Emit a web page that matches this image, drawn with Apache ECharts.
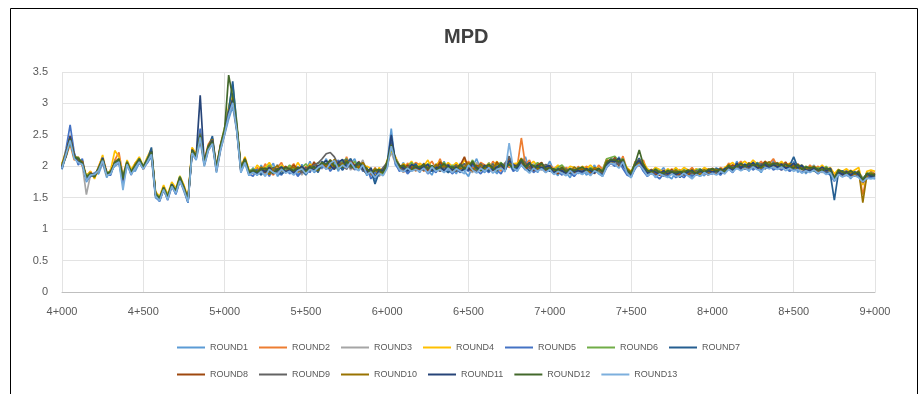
<!DOCTYPE html>
<html>
<head>
<meta charset="utf-8">
<script src="https://cdn.jsdelivr.net/npm/echarts@6/dist/echarts.min.js"></script>
<style>
html, body { margin: 0; padding: 0; background: #fff; }
#grafico { width: 924px; height: 394px; }
</style>
</head>
<body>
<div id="grafico"></div>
<script>
// chainage in metres, one reading every 25 m
var chainage = [
    4000,4025,4050,4075,4100,4125,4150,4175, 4200,4225,4250,4275,4300,4325,4350,4375,
    4400,4425,4450,4475,4500,4525,4550,4575, 4600,4625,4650,4675,4700,4725,4750,4775,
    4800,4825,4850,4875,4900,4925,4950,4975, 5000,5025,5050,5075,5100,5125,5150,5175,
    5200,5225,5250,5275,5300,5325,5350,5375, 5400,5425,5450,5475,5500,5525,5550,5575,
    5600,5625,5650,5675,5700,5725,5750,5775, 5800,5825,5850,5875,5900,5925,5950,5975,
    6000,6025,6050,6075,6100,6125,6150,6175, 6200,6225,6250,6275,6300,6325,6350,6375,
    6400,6425,6450,6475,6500,6525,6550,6575, 6600,6625,6650,6675,6700,6725,6750,6775,
    6800,6825,6850,6875,6900,6925,6950,6975, 7000,7025,7050,7075,7100,7125,7150,7175,
    7200,7225,7250,7275,7300,7325,7350,7375, 7400,7425,7450,7475,7500,7525,7550,7575,
    7600,7625,7650,7675,7700,7725,7750,7775, 7800,7825,7850,7875,7900,7925,7950,7975,
    8000,8025,8050,8075,8100,8125,8150,8175, 8200,8225,8250,8275,8300,8325,8350,8375,
    8400,8425,8450,8475,8500,8525,8550,8575, 8600,8625,8650,8675,8700,8725,8750,8775,
    8800,8825,8850,8875,8900,8925,8950,8975, 9000
];

var xLabels = ['4+000','4+500','5+000','5+500','6+000','6+500','7+000','7+500','8+000','8+500','9+000'];
var seriesNames = ['ROUND1','ROUND2','ROUND3','ROUND4','ROUND5','ROUND6','ROUND7',
                   'ROUND8','ROUND9','ROUND10','ROUND11','ROUND12','ROUND13'];

var round1 = [
    1.95,2.18,2.40,2.20,2.05,2.10,1.75,1.85, 1.90,1.88,2.05,1.82,1.95,2.00,2.05,1.72,
    2.00,1.95,1.92,2.05,2.02,2.05,2.15,1.50, 1.45,1.62,1.48,1.72,1.55,1.78,1.60,1.42,
    2.20,2.10,2.40,2.00,2.25,2.35,1.90,2.25, 2.50,2.75,2.95,2.55,1.90,2.05,1.85,1.98,
    1.85,2.02,1.88,1.96,2.05,1.84,1.92,2.00, 1.90,1.97,1.86,2.03,1.92,2.08,1.90,1.95,
    2.00,2.12,1.95,2.06,1.92,2.10,1.95,2.05, 2.12,1.95,2.04,1.85,1.98,1.76,1.94,1.88,
    2.05,2.60,2.02,1.95,2.06,1.90,2.02,1.98, 1.90,2.05,1.94,1.86,2.02,1.95,2.08,1.90,
    1.97,1.88,2.05,1.92,1.84,2.00,2.12,1.95, 1.90,2.06,1.96,1.88,2.02,1.95,2.12,1.98,
    1.92,2.05,2.15,1.94,2.02,1.90,2.05,1.96, 2.08,1.92,1.85,1.98,1.90,1.82,1.96,1.88,
    1.98,1.86,1.92,2.02,1.88,1.84,2.05,2.12, 2.02,2.15,2.05,1.88,1.82,2.00,2.12,1.98,
    1.86,1.95,1.82,1.90,1.98,1.85,1.80,1.92, 1.84,1.95,1.88,1.82,1.96,1.90,1.85,1.94,
    1.90,1.98,1.86,1.95,2.02,1.94,2.08,1.96, 2.04,1.92,2.08,1.98,1.90,2.05,1.96,2.10,
    1.95,2.06,1.98,1.92,2.08,1.90,2.00,1.88, 1.96,2.02,1.90,1.98,1.88,1.95,1.78,1.92,
    1.85,1.95,1.80,1.92,1.86,1.75,1.90,1.82, 1.80];
var round2 = [
    2.02,2.15,2.35,2.10,2.15,2.00,1.85,1.92, 1.82,2.00,2.15,1.92,1.88,2.10,2.22,1.85,
    2.08,1.88,2.05,2.12,1.95,2.12,2.25,1.58, 1.50,1.68,1.52,1.68,1.62,1.82,1.68,1.48,
    2.28,2.18,2.45,2.10,2.35,2.45,2.00,2.35, 2.60,2.90,3.10,2.65,2.00,2.12,1.92,1.88,
    1.98,1.90,2.04,1.92,1.86,1.98,2.06,1.90, 1.96,2.04,1.92,1.88,2.00,1.94,2.05,1.92,
    2.08,1.95,2.04,2.10,2.05,1.96,2.15,1.98, 1.95,2.08,1.98,1.94,1.85,1.98,1.88,1.95,
    2.00,2.28,2.15,2.02,1.90,2.05,1.98,2.06, 2.02,1.92,2.00,2.08,1.96,2.12,1.95,2.04,
    1.92,2.05,1.95,2.00,2.08,1.98,1.94,2.06, 2.02,1.94,2.08,2.00,1.92,2.05,1.98,2.04,
    2.00,2.45,2.02,2.10,1.95,2.05,1.98,1.90, 2.02,1.96,2.00,1.90,1.98,1.94,1.88,2.00,
    1.92,2.00,1.96,1.88,2.02,1.95,2.12,2.05, 2.10,2.02,2.16,1.95,1.86,2.08,2.00,2.10,
    1.92,1.88,1.98,1.85,1.94,1.90,1.96,1.88, 1.95,1.86,1.92,1.98,1.90,1.94,1.88,1.96,
    1.92,1.88,1.98,1.94,2.05,1.98,2.02,2.08, 1.98,2.06,1.95,2.02,2.08,1.96,2.04,2.12,
    2.00,1.94,2.05,2.02,1.96,2.04,1.98,1.92, 2.02,1.95,2.00,1.92,1.98,1.90,1.85,1.95,
    1.90,1.86,1.94,1.88,1.92,1.55,1.85,1.92, 1.88];
var round3 = [
    1.98,2.22,2.50,2.18,2.08,2.02,1.55,1.86, 1.88,1.92,2.10,1.90,1.92,2.02,2.08,1.78,
    2.02,1.92,1.98,2.08,2.00,2.08,2.20,1.52, 1.46,1.66,1.50,1.70,1.58,1.80,1.62,1.44,
    2.22,2.12,2.55,2.02,2.28,2.38,1.92,2.28, 2.52,2.82,3.00,2.58,1.92,2.08,1.88,1.95,
    1.90,1.98,1.86,1.95,1.92,2.03,1.88,1.94, 1.98,1.90,1.95,1.86,1.96,2.00,1.92,2.02,
    1.96,2.04,2.08,1.98,2.02,1.95,2.08,1.94, 2.04,1.98,2.10,1.90,1.86,1.95,1.84,1.92,
    2.08,2.22,2.05,2.00,1.94,1.98,1.92,2.00, 1.96,2.00,1.90,1.98,2.04,1.92,1.98,2.02,
    1.94,2.00,1.96,2.04,1.95,1.90,2.06,1.98, 1.95,2.00,2.04,1.92,1.98,2.06,2.02,1.94,
    1.98,2.08,2.00,1.95,2.04,1.98,1.94,2.02, 1.95,1.90,1.96,1.92,1.86,1.98,1.92,1.95,
    1.90,1.95,1.88,1.96,1.92,1.88,2.02,2.08, 2.05,2.10,2.02,1.90,1.88,1.98,2.06,2.02,
    1.88,1.92,1.86,1.94,1.90,1.88,1.92,1.86, 1.90,1.88,1.95,1.86,1.92,1.88,1.94,1.90,
    1.95,1.90,1.92,1.88,1.98,2.02,1.96,2.00, 2.02,1.98,2.00,2.05,1.96,2.02,2.00,1.96,
    2.04,1.98,2.02,1.95,2.00,1.96,1.94,1.98, 1.94,1.98,1.95,1.90,1.96,1.92,1.82,1.90,
    1.88,1.90,1.85,1.88,1.90,1.82,1.86,1.88, 1.83];
var round4 = [
    2.05,2.25,2.42,2.12,2.12,2.08,1.85,1.92, 1.80,1.98,2.18,1.85,1.95,2.25,2.15,1.82,
    2.10,1.95,2.05,2.15,2.00,2.15,2.28,1.60, 1.52,1.70,1.55,1.75,1.65,1.85,1.70,1.50,
    2.30,2.20,2.48,2.08,2.32,2.42,1.98,2.32, 2.58,2.95,3.15,2.62,1.98,2.15,1.95,1.90,
    2.02,1.95,1.98,2.06,1.94,1.90,2.02,1.96, 2.00,1.92,2.06,1.96,1.90,2.04,1.98,1.94,
    2.05,2.00,2.10,1.95,2.08,2.04,1.98,2.12, 1.98,2.05,1.95,2.00,1.96,1.85,1.98,1.90,
    2.10,2.25,2.15,1.98,2.04,2.00,2.08,1.96, 2.05,2.00,2.10,1.96,2.02,2.08,1.98,2.06,
    2.00,2.06,1.98,2.10,2.02,2.08,2.00,1.95, 1.98,2.05,2.00,2.08,1.95,2.02,2.10,2.04,
    2.05,2.12,1.98,2.02,2.08,2.00,2.04,1.98, 2.00,1.95,2.02,1.96,1.92,2.00,1.98,1.94,
    2.00,1.96,2.02,1.95,1.98,1.92,2.10,2.05, 2.12,2.05,2.08,1.98,1.92,2.04,2.10,2.06,
    1.96,1.92,1.98,1.95,1.90,1.96,1.92,1.98, 1.92,1.98,1.94,1.90,1.96,1.92,1.98,1.94,
    1.96,1.94,1.90,1.98,2.02,2.06,1.98,2.04, 2.08,2.02,2.10,2.04,2.00,2.08,2.02,2.05,
    2.02,2.08,2.00,2.05,2.02,1.98,2.02,1.96, 1.98,2.00,1.96,2.02,1.94,1.98,1.88,1.95,
    1.92,1.96,1.90,1.94,1.98,1.70,1.92,1.94, 1.92];
var round5 = [
    1.96,2.28,2.66,2.22,2.02,2.12,1.78,1.84, 1.86,1.94,2.14,1.86,1.86,2.08,2.06,1.76,
    2.06,1.86,2.02,2.06,1.96,2.06,2.18,1.54, 1.44,1.64,1.46,1.68,1.56,1.76,1.64,1.42,
    2.24,2.14,2.60,2.04,2.28,2.44,1.94,2.28, 2.56,2.84,3.02,2.62,1.94,2.12,1.88,1.84,
    1.95,1.88,1.96,1.84,1.98,1.90,1.86,1.97, 1.88,1.95,1.84,1.92,1.98,1.90,2.04,1.95,
    1.98,2.05,1.92,2.00,2.10,1.94,2.02,2.12, 1.94,2.06,1.92,1.98,1.80,1.90,1.86,1.96,
    1.98,2.45,2.05,1.92,1.98,1.88,1.95,2.02, 1.92,1.98,1.88,1.95,1.90,2.02,1.92,1.96,
    1.88,1.95,1.90,1.98,1.92,2.02,1.94,1.88, 1.96,1.90,1.98,1.94,1.88,2.00,2.05,1.92,
    1.96,2.02,1.94,2.06,1.90,1.96,2.00,1.92, 1.94,1.88,1.92,1.86,1.95,1.90,1.84,1.92,
    1.88,1.92,1.86,1.94,1.90,1.85,1.98,2.05, 2.00,2.08,1.96,1.86,1.84,1.96,2.04,1.92,
    1.84,1.90,1.86,1.80,1.88,1.84,1.90,1.82, 1.86,1.82,1.90,1.85,1.88,1.84,1.92,1.88,
    1.88,1.92,1.86,1.94,1.96,1.90,2.00,1.94, 1.96,2.02,1.94,2.00,1.95,1.98,2.02,1.94,
    1.98,1.94,2.00,1.92,1.96,1.94,1.90,1.96, 1.92,1.95,1.88,1.94,1.90,1.86,1.76,1.88,
    1.84,1.86,1.82,1.86,1.84,1.74,1.80,1.84, 1.82];
var round6 = [
    2.04,2.18,2.38,2.16,2.14,2.04,1.84,1.90, 1.84,1.98,2.10,1.90,1.92,2.06,2.12,1.84,
    2.08,1.92,2.02,2.12,2.00,2.12,2.24,1.58, 1.50,1.66,1.54,1.72,1.62,1.84,1.66,1.48,
    2.26,2.16,2.52,2.06,2.32,2.40,1.98,2.34, 2.62,2.92,3.30,2.70,1.98,2.10,1.92,1.96,
    1.92,1.98,1.94,2.02,1.96,1.92,2.00,1.94, 2.02,1.96,1.92,1.98,2.04,1.95,2.00,2.06,
    2.04,1.98,2.06,2.02,1.96,2.08,2.12,2.02, 2.08,1.96,2.02,1.94,1.90,1.96,1.92,1.86,
    2.04,2.28,2.12,2.02,1.96,2.00,2.06,1.98, 2.00,1.96,2.04,2.00,1.94,2.02,2.06,1.96,
    2.02,1.96,2.00,2.04,1.98,2.10,1.96,2.02, 1.98,2.04,1.96,2.02,2.06,1.98,2.04,2.00,
    2.02,2.06,2.04,1.98,2.00,2.06,1.96,2.02, 1.98,1.94,1.98,2.02,1.94,1.96,1.92,1.98,
    1.96,1.92,1.98,1.94,1.90,1.94,2.12,2.14, 2.16,2.08,2.12,1.95,1.90,2.06,2.08,2.00,
    1.94,1.90,1.96,1.92,1.88,1.94,1.90,1.95, 1.90,1.94,1.92,1.88,1.94,1.96,1.90,1.92,
    1.94,1.96,1.92,1.96,2.00,1.96,2.04,2.00, 2.00,2.04,1.98,2.06,2.02,2.00,2.06,2.02,
    2.06,2.00,2.04,1.98,2.04,2.00,1.96,2.00, 1.96,1.92,1.98,1.94,2.00,1.92,1.82,1.94,
    1.90,1.92,1.88,1.90,1.86,1.80,1.88,1.90, 1.87];
var round7 = [
    1.98,2.16,2.44,2.14,2.08,2.06,1.80,1.88, 1.86,1.96,2.12,1.88,1.90,2.04,2.10,1.80,
    2.04,1.90,2.00,2.10,1.98,2.10,2.30,1.55, 1.48,1.64,1.50,1.70,1.60,1.82,1.64,1.45,
    2.24,2.16,2.50,2.04,2.30,2.48,1.96,2.30, 2.54,2.88,3.35,2.64,1.96,2.10,1.90,1.94,
    1.93,1.86,1.95,1.90,1.98,1.94,1.88,1.92, 1.97,1.90,1.99,1.94,1.86,1.96,2.00,1.90,
    2.08,1.96,2.00,2.08,2.02,1.94,2.05,2.12, 1.97,2.02,1.95,1.88,1.94,1.72,1.90,1.95,
    2.02,2.38,2.12,1.97,2.00,1.93,1.98,2.04, 1.93,2.00,1.97,1.92,1.99,2.04,1.95,1.90,
    1.97,2.02,1.92,1.96,2.01,1.94,1.98,2.04, 1.97,1.92,2.00,1.97,2.02,1.94,2.06,1.95,
    1.97,2.08,2.00,1.92,1.97,2.02,1.95,1.98, 1.92,1.96,1.89,1.94,1.92,1.88,1.95,1.90,
    1.95,1.90,1.94,1.92,1.96,1.86,2.06,2.09, 2.11,2.04,2.09,1.92,1.84,2.02,2.13,1.96,
    1.92,1.88,1.93,1.90,1.86,1.91,1.87,1.93, 1.82,1.91,1.87,1.93,1.88,1.95,1.92,1.88,
    1.92,1.96,1.95,1.90,2.00,1.97,2.01,1.99, 1.99,2.03,1.97,2.05,2.00,1.96,2.03,2.01,
    2.00,2.04,1.98,2.01,2.15,1.98,2.02,1.94, 1.98,1.93,1.89,1.96,1.92,1.88,1.46,1.90,
    1.93,1.88,1.85,1.90,1.88,1.78,1.86,1.85, 1.88];
var round8 = [
    2.00,2.20,2.48,2.18,2.06,2.08,1.78,1.90, 1.84,1.94,2.08,1.86,1.92,2.06,2.08,1.78,
    2.06,1.88,1.98,2.08,1.96,2.08,2.20,1.56, 1.47,1.63,1.49,1.69,1.59,1.79,1.63,1.44,
    2.23,2.13,2.48,2.03,2.28,2.38,1.93,2.28, 2.53,2.83,3.03,2.58,1.93,2.08,1.88,1.92,
    1.88,1.97,1.90,1.99,1.93,1.95,1.94,2.00, 1.94,2.02,1.96,1.90,1.98,1.93,2.07,1.97,
    2.03,1.97,2.10,1.98,2.07,2.02,1.96,2.08, 2.02,1.98,2.06,1.92,1.88,1.93,1.94,1.90,
    2.04,2.33,2.08,2.02,1.96,2.02,1.97,1.93, 1.95,2.04,1.93,1.99,1.94,2.07,2.00,1.96,
    1.93,1.98,2.02,2.15,1.96,1.93,2.02,1.96, 2.02,1.96,1.93,2.07,1.98,2.03,2.13,2.00,
    2.02,2.08,1.96,2.00,1.93,2.02,2.06,1.94, 2.00,1.94,1.88,1.96,1.90,1.94,1.90,1.97,
    1.94,1.97,1.90,1.95,1.94,1.90,2.08,2.04, 2.14,2.00,2.06,1.94,1.88,2.04,2.08,1.97,
    1.90,1.95,1.88,1.86,1.93,1.87,1.95,1.86, 1.87,1.92,1.86,1.91,1.86,1.92,1.90,1.86,
    1.97,1.91,1.96,1.92,1.97,2.02,1.98,2.04, 1.95,2.02,2.04,1.96,2.02,2.08,1.98,2.04,
    2.05,1.98,2.07,1.96,2.02,1.96,1.99,1.93, 1.94,2.00,1.93,1.92,1.97,1.94,1.82,1.92,
    1.86,1.92,1.87,1.84,1.90,1.74,1.84,1.87, 1.87];
var round9 = [
    1.97,2.19,2.42,2.13,2.11,2.03,1.82,1.87, 1.86,1.96,2.11,1.89,1.89,2.04,2.11,1.81,
    2.04,1.91,2.01,2.09,1.99,2.09,2.21,1.54, 1.49,1.64,1.51,1.71,1.61,1.81,1.66,1.46,
    2.24,2.14,2.52,2.06,2.31,2.41,1.96,2.31, 2.56,2.86,3.06,2.61,1.96,2.11,1.91,1.89,
    1.89,1.94,1.92,1.93,1.96,1.90,1.96,1.92, 1.96,1.92,1.97,1.90,1.97,1.98,2.02,2.05,
    2.12,2.20,2.22,2.15,2.02,2.05,2.11,1.97, 1.99,2.04,1.94,1.89,1.93,1.84,1.90,1.98,
    2.06,2.36,2.11,1.99,1.94,1.99,2.01,1.96, 1.99,1.93,1.98,2.01,1.96,1.92,1.99,2.03,
    1.96,1.92,1.99,2.04,1.99,1.96,1.92,2.01, 2.01,1.96,2.04,1.94,1.99,2.04,2.16,1.99,
    1.99,2.11,2.06,1.97,1.96,1.94,1.99,2.03, 1.99,1.91,1.94,1.91,1.96,1.91,1.94,1.92,
    1.93,1.91,1.96,1.90,1.94,1.89,2.04,2.11, 2.11,2.02,2.09,1.91,1.86,2.04,2.11,2.02,
    1.91,1.94,1.89,1.92,1.84,1.89,1.93,1.89, 1.89,1.86,1.93,1.89,1.93,1.90,1.94,1.89,
    1.94,1.89,1.94,1.91,1.98,1.99,2.02,1.96, 2.01,1.97,2.02,1.99,2.04,2.01,1.98,2.06,
    2.02,2.01,2.04,1.96,1.99,2.01,1.96,1.91, 1.96,1.94,1.91,1.98,1.91,1.96,1.79,1.91,
    1.89,1.87,1.91,1.86,1.89,1.77,1.84,1.86, 1.84];
var round10 = [
    2.03,2.23,2.46,2.17,2.09,2.07,1.81,1.89, 1.83,1.97,2.13,1.87,1.91,2.07,2.12,1.79,
    2.07,1.89,2.03,2.11,1.97,2.11,2.23,1.57, 1.47,1.67,1.51,1.71,1.59,1.81,1.67,1.47,
    2.27,2.17,2.47,2.07,2.33,2.43,1.97,2.33, 2.57,2.87,3.07,2.63,1.97,2.13,1.91,1.93,
    1.91,1.99,1.93,1.87,1.96,2.01,1.94,1.90, 1.96,1.99,1.91,1.97,1.94,2.01,1.97,1.93,
    2.06,2.01,1.97,2.11,1.99,2.04,2.09,2.01, 2.01,1.99,2.06,1.96,1.89,1.96,1.87,1.94,
    2.01,2.31,2.11,1.96,2.03,1.96,2.01,1.97, 1.96,2.03,1.98,1.94,2.03,1.96,2.01,1.97,
    1.94,2.01,1.96,1.99,2.06,1.93,1.99,2.03, 1.96,2.01,1.97,2.04,2.01,1.96,2.06,2.01,
    1.99,2.13,2.01,2.04,1.99,1.96,2.03,1.97, 1.96,1.93,1.91,1.99,1.93,1.91,1.99,1.94,
    1.97,1.93,1.91,1.98,1.95,1.91,2.09,2.06, 2.09,2.11,2.03,1.96,1.91,2.01,2.06,2.04,
    1.92,1.89,1.94,1.88,1.92,1.90,1.88,1.94, 1.89,1.93,1.89,1.95,1.90,1.87,1.95,1.91,
    1.93,1.95,1.91,1.94,2.03,1.95,2.01,2.03, 2.02,1.99,2.05,2.01,1.97,2.04,2.07,1.99,
    2.01,2.04,1.98,2.04,2.00,1.95,1.99,1.95, 1.99,1.96,1.93,1.97,1.95,1.93,1.81,1.93,
    1.91,1.89,1.92,1.87,1.93,1.42,1.86,1.89, 1.86];
var round11 = [
    1.99,2.21,2.47,2.16,2.07,2.05,1.79,1.87, 1.87,1.95,2.13,1.88,1.91,2.05,2.09,1.79,
    2.05,1.90,1.99,2.11,1.99,2.11,2.24,1.55, 1.46,1.65,1.49,1.71,1.60,1.81,1.65,1.45,
    2.26,2.15,3.13,2.04,2.31,2.41,1.95,2.31, 2.55,2.86,3.06,2.60,1.95,2.11,1.89,1.91,
    1.89,1.96,1.91,1.98,1.88,1.94,1.99,1.91, 1.94,1.89,1.95,2.00,1.93,1.99,1.94,2.01,
    2.04,2.09,2.01,1.95,2.06,2.11,1.98,2.04, 2.00,2.07,1.96,1.91,1.97,1.81,1.94,1.93,
    2.03,2.50,2.09,2.01,1.97,1.93,2.03,1.99, 1.96,1.99,2.03,1.94,1.97,1.99,1.93,2.01,
    1.94,1.99,1.91,1.97,1.94,2.05,1.98,1.93, 2.01,1.97,1.94,1.99,2.03,1.94,2.09,2.03,
    1.98,2.09,1.99,2.06,1.94,2.01,1.97,1.99, 2.01,1.89,1.96,1.93,1.89,1.96,1.91,1.93,
    1.91,1.96,1.93,1.89,1.97,1.91,2.03,2.09, 2.07,2.13,2.01,1.93,1.87,2.03,2.09,1.99,
    1.89,1.93,1.91,1.87,1.93,1.88,1.91,1.87, 1.91,1.87,1.91,1.93,1.87,1.93,1.89,1.93,
    1.91,1.93,1.89,1.96,1.99,1.93,2.05,1.97, 2.03,1.99,2.06,1.97,2.01,2.03,1.97,2.03,
    1.99,2.03,1.97,1.99,2.05,1.97,2.01,1.94, 1.93,1.97,1.94,1.99,1.93,1.97,1.81,1.91,
    1.87,1.91,1.86,1.91,1.87,1.77,1.88,1.84, 1.86];
var round12 = [
    2.01,2.17,2.43,2.14,2.13,2.04,1.83,1.88, 1.83,1.97,2.11,1.89,1.90,2.06,2.11,1.81,
    2.06,1.91,2.01,2.12,1.99,2.11,2.23,1.56, 1.49,1.66,1.51,1.70,1.61,1.83,1.66,1.46,
    2.25,2.16,2.49,2.06,2.31,2.39,1.97,2.33, 2.58,3.45,3.10,2.62,1.97,2.11,1.91,1.93,
    1.91,1.95,1.97,1.93,1.89,1.96,1.93,1.98, 1.96,1.93,1.98,1.95,1.92,1.97,1.99,1.94,
    2.06,2.03,2.10,2.00,2.03,1.98,2.08,2.01, 1.97,2.06,2.01,1.96,1.90,1.93,1.95,1.89,
    2.07,2.34,2.11,1.99,2.01,1.96,1.94,2.01, 1.98,2.03,1.96,2.01,1.93,1.99,2.04,1.97,
    1.99,1.95,2.03,1.96,1.99,2.08,1.96,1.93, 1.99,2.03,1.97,1.93,2.05,1.99,2.03,1.97,
    2.01,2.11,1.98,2.04,2.01,1.98,2.05,1.95, 1.97,1.95,1.93,1.98,1.91,1.96,1.93,1.96,
    1.99,1.93,1.96,1.92,1.96,1.92,2.06,2.11, 2.10,2.07,2.11,1.93,1.89,2.05,2.26,2.03,
    1.93,1.91,1.95,1.90,1.89,1.93,1.91,1.90, 1.92,1.90,1.94,1.91,1.89,1.94,1.91,1.95,
    1.96,1.92,1.96,1.91,2.01,1.97,1.99,2.05, 1.99,2.05,2.01,2.03,1.98,2.06,2.01,2.04,
    2.04,1.99,2.03,2.00,1.97,2.03,1.95,1.99, 1.97,1.99,1.95,1.93,1.97,1.94,1.80,1.94,
    1.91,1.88,1.93,1.89,1.91,1.78,1.89,1.87, 1.86];
var round13 = [
    1.97,2.19,2.41,2.12,2.06,2.03,1.77,1.86, 1.87,1.93,2.09,1.85,1.88,2.03,2.07,1.62,
    2.03,1.87,1.97,2.07,1.95,2.07,2.19,1.53, 1.45,1.63,1.47,1.68,1.57,1.77,1.62,1.43,
    2.21,2.11,2.46,2.01,2.26,2.36,1.91,2.26, 2.51,2.81,3.01,2.56,1.91,2.06,1.86,1.90,
    1.86,1.92,1.84,1.95,1.90,1.88,1.95,1.89, 1.92,1.86,1.93,1.96,1.88,1.95,1.92,1.98,
    2.02,1.95,2.05,2.09,1.96,2.02,1.97,2.07, 1.97,1.93,2.02,1.87,1.91,1.82,1.89,1.85,
    1.97,2.32,2.07,1.95,1.91,1.97,1.92,1.95, 1.92,1.97,1.89,1.99,1.92,1.95,1.90,1.97,
    1.90,1.96,1.92,1.88,2.02,1.94,1.89,1.97, 1.92,1.98,1.89,1.95,1.97,1.91,2.37,1.97,
    1.93,2.02,1.95,1.89,1.97,1.92,1.96,1.90, 1.95,1.87,1.92,1.89,1.85,1.93,1.87,1.90,
    1.87,1.92,1.85,1.93,1.89,1.84,1.99,2.05, 2.03,1.97,2.07,1.89,1.82,1.98,2.03,1.95,
    1.85,1.89,1.83,1.88,1.85,1.82,1.88,1.84, 1.84,1.89,1.85,1.80,1.87,1.84,1.90,1.86,
    1.89,1.86,1.92,1.88,1.95,1.91,1.97,1.93, 1.97,1.93,1.99,1.95,1.92,1.98,1.96,1.99,
    1.95,1.99,1.93,1.97,1.92,1.95,1.89,1.93, 1.90,1.94,1.89,1.92,1.87,1.90,1.77,1.87,
    1.83,1.87,1.82,1.85,1.82,1.75,1.81,1.80, 1.82];

var rounds = [round1, round2, round3, round4, round5, round6, round7,
              round8, round9, round10, round11, round12, round13];
var colors = ['#5B9BD5','#ED7D31','#A5A5A5','#FFC000','#4472C4','#70AD47','#255E91',
              '#9E480E','#636363','#997300','#264478','#43682B','#7CAFDD'];

var chartDom = document.getElementById('grafico');
var myChart = echarts.init(chartDom);

var legendText = {
    fontSize: 9,
    color: '#595959',
    fontFamily: "'Liberation Sans Narrow', 'Liberation Sans', sans-serif"
};

var option = {
    animation: false,
    color: colors,
    title: {
        text: 'MPD',
        left: 444,
        top: 27,
        padding: 0,
        textStyle: { fontSize: 20, fontWeight: 'bold', color: '#404040', fontFamily: "'Liberation Sans', Arial, sans-serif" }
    },
    graphic: [{
        type: 'rect',
        shape: { x: 10.5, y: 8.5, width: 907, height: 420 },
        style: { fill: 'none', stroke: '#000', lineWidth: 1 },
        silent: true
    }],
    legend: [{
        data: seriesNames.slice(0, 7),
        left: 172,
        top: 338,
        icon: 'rect',
        itemWidth: 28,
        itemHeight: 2,
        itemGap: 11,
        textStyle: legendText
    }, {
        data: seriesNames.slice(7),
        left: 172,
        top: 365,
        icon: 'rect',
        itemWidth: 28,
        itemHeight: 2,
        itemGap: 11,
        textStyle: legendText
    }],
    grid: {
        left: 62,
        right: 49,
        top: 72,
        bottom: 102
    },
    xAxis: {
        type: 'value',
        min: 4000,
        max: 9000,
        interval: 500,
        axisLine: { show: true, lineStyle: { color: '#bfbfbf' } },
        axisTick: { show: false },
        splitLine: { show: true, lineStyle: { color: '#e3e3e3' } },
        axisLabel: {
            margin: 14,
            fontSize: 11,
            color: '#595959',
            formatter: function (v) { return xLabels[Math.round((v - 4000) / 500)]; }
        }
    },
    yAxis: {
        type: 'value',
        min: 0,
        max: 3.5,
        interval: 0.5,
        axisLine: { show: false },
        axisTick: { show: false },
        splitLine: { show: true, lineStyle: { color: '#e3e3e3' } },
        axisLabel: { margin: 14, fontSize: 11, color: '#595959' }
    },
    series: seriesNames.map(function (name, k) {
        return {
            name: name,
            type: 'line',
            symbol: 'none',
            lineStyle: { width: 1.7 },
            data: chainage.map(function (c, i) { return [c, rounds[k][i]]; })
        };
    })
};

myChart.setOption(option);
</script>
</body>
</html>
